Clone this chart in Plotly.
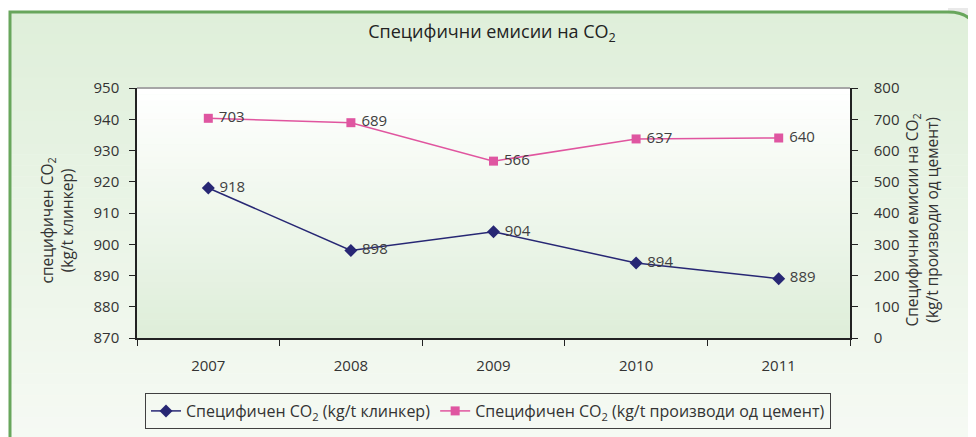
import plotly.graph_objects as go

years = ["2007", "2008", "2009", "2010", "2011"]
clinker = [918, 898, 904, 894, 889]
cement = [703, 689, 566, 637, 640]
name_clinker = "Специфичен CO<sub>2</sub> (kg/t клинкер)"
name_cement = "Специфичен CO<sub>2</sub> (kg/t производи од цемент)"
title_text = "Специфични емисии на CO<sub>2</sub>"
left_title = "специфичен CO<sub>2</sub><br>(kg/t клинкер)"
right_title = "Специфични емисии на CO<sub>2</sub><br>(kg/t производи од цемент)"

W, H = 976, 437
OFF = 8  # page body margin offset
L, R, T, B = 137, 850, 88, 338
FONT = "Open Sans, Noto Sans, sans-serif"

def px(x):
    return (x - L) / (R - L)

def py(y):
    return (B - y) / (B - T)

def mix(c1, c2, t):
    a = [int(c1[i:i + 2], 16) for i in (1, 3, 5)]
    b = [int(c2[i:i + 2], 16) for i in (1, 3, 5)]
    return "rgb(%d,%d,%d)" % tuple(round(a[k] + (b[k] - a[k]) * t) for k in range(3))

shapes = []
n = 40
y0f, y1f = 12, 450
for i in range(n):
    ya = y0f + (y1f - y0f) * i / n
    yb = y0f + (y1f - y0f) * (i + 1) / n + 0.5
    shapes.append(dict(type="rect", xref="paper", yref="paper", layer="below",
                       x0=px(10), x1=px(990), y0=py(ya), y1=py(yb), line_width=0,
                       fillcolor=mix("#dfefda", "#f6faf4", i / (n - 1))))
shapes.append(dict(type="path", xref="paper", yref="paper", layer="below", line_width=0,
                   fillcolor="#e9e9e9",
                   path="M %f,%f L %f,%f L %f,%f Q %f,%f %f,%f Z" % (
                       px(948), py(8), px(990), py(8), px(990), py(42),
                       px(978), py(12), px(948), py(12))))
m = 40
for i in range(m):
    ya = T + (B - T) * i / m
    yb = T + (B - T) * (i + 1) / m + 0.5
    shapes.append(dict(type="rect", xref="paper", yref="paper", layer="below",
                       x0=0, x1=1, y0=py(ya), y1=py(min(yb, B)), line_width=0,
                       fillcolor=mix("#ffffff", "#deeed9", i / (m - 1))))
shapes.append(dict(type="path", xref="paper", yref="paper", layer="below",
                   line=dict(color="#68a65c", width=3), fillcolor="rgba(0,0,0,0)",
                   path="M %f,%f L %f,%f L %f,%f Q %f,%f %f,%f L %f,%f" % (
                       px(10), py(460), px(10), py(12), px(948), py(12),
                       px(978), py(12), px(978), py(42), px(978), py(460))))
shapes.append(dict(type="line", xref="paper", yref="paper", x0=0, x1=1, y0=1, y1=1,
                   line=dict(color="#a6a6a6", width=2)))

fig = go.Figure()
fig.add_trace(go.Scatter(
    x=years, y=clinker, name=name_clinker, mode="lines+markers+text",
    line=dict(color="#272774", width=1.5),
    marker=dict(symbol="diamond", size=10, color="#272774"),
    texttemplate=" %{y}", textposition="middle right",
    textfont=dict(family=FONT, size=15, color="#404040"),
))
fig.add_trace(go.Scatter(
    x=years, y=cement, name=name_cement, mode="lines+markers+text", yaxis="y2",
    line=dict(color="#e0559f", width=1.5),
    marker=dict(symbol="square", size=9, color="#df56a1"),
    texttemplate=" %{y}", textposition="middle right",
    textfont=dict(family=FONT, size=15, color="#404040"),
))

axis_font = dict(family=FONT, size=15, color="#333333")
fig.update_layout(
    width=W, height=H,
    margin=dict(l=L - OFF, r=W - R + OFF, t=T - OFF, b=H - B + OFF, autoexpand=False),
    paper_bgcolor="#ffffff",
    plot_bgcolor="rgba(0,0,0,0)",
    font=dict(family=FONT, size=15, color="#333333"),
    title=dict(text=title_text, x=(492 - OFF) / W, xref="container", y=1 - (32 - OFF) / H,
               yref="container", xanchor="center", yanchor="middle",
               font=dict(family=FONT, size=18, color="#222222")),
    xaxis=dict(type="category", tickson="boundaries", showgrid=False, range=[-0.5, 4.5],
               showline=True, linecolor="#222222", linewidth=1.5,
               ticks="outside", ticklen=6, tickcolor="#222222",
               ticklabelstandoff=13, tickfont=axis_font, zeroline=False),
    yaxis=dict(range=[870, 950], dtick=10, showgrid=False, showline=True,
               linecolor="#222222", linewidth=1.5, ticks="outside", ticklen=6,
               tickcolor="#222222", tickfont=axis_font, zeroline=False,
               ticklabelstandoff=7),
    yaxis2=dict(range=[0, 800], dtick=100, overlaying="y", side="right",
                showgrid=False, showline=True, linecolor="#222222", linewidth=1.5,
                ticks="outside", ticklen=6, tickcolor="#222222",
                tickfont=axis_font, zeroline=False, ticklabelstandoff=13),
    legend=dict(orientation="h", xref="container", yref="container",
                x=(488 - OFF) / W, xanchor="center", y=1 - (393 - OFF) / H, yanchor="top",
                bordercolor="#404040", borderwidth=1, bgcolor="rgba(0,0,0,0)",
                font=dict(family=FONT, size=16, color="#333333"),
                itemwidth=30, tracegroupgap=0),
    shapes=shapes,
    annotations=[
        dict(text=left_title, xref="paper", yref="paper", x=px(56), y=0.47,
             textangle=-90, showarrow=False, xanchor="center", yanchor="middle",
             font=dict(family=FONT, size=15.5, color="#333333")),
        dict(text=right_title, xref="paper", yref="paper", x=px(921), y=0.47,
             textangle=-90, showarrow=False, xanchor="center", yanchor="middle",
             font=dict(family=FONT, size=15.5, color="#333333")),
    ],
)

fig.write_html("out.html")
